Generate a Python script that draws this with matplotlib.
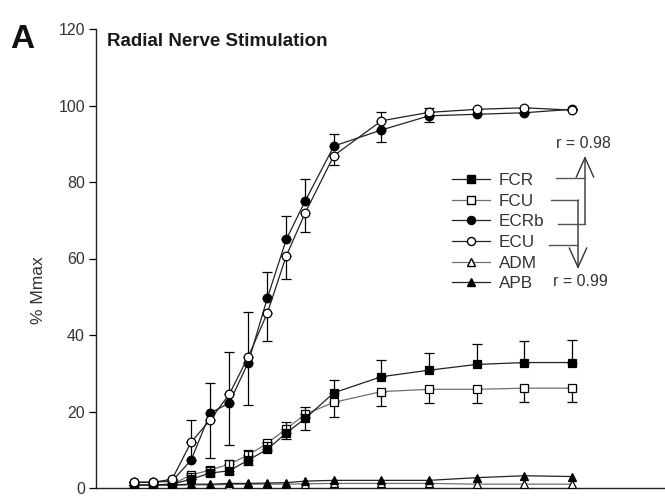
import matplotlib
matplotlib.use("Agg")
import matplotlib.pyplot as plt
from matplotlib.lines import Line2D
from matplotlib.patches import FancyArrowPatch

plt.rcParams['font.family'] = ['Liberation Sans', 'DejaVu Sans']

# stimulus steps (arbitrary units along x)
x = [2, 3, 4, 5, 6, 7, 8, 9, 10, 11, 12.5, 15, 17.5, 20, 22.5, 25]

fcr = [0.8, 0.8, 1.0, 2.3, 3.9, 4.5, 7.3, 10.1, 14.4, 18.2, 24.9, 29.1, 30.8, 32.3, 32.8, 32.8]
fcr_err = [0, 0, 0, 1.5, 1.5, 2.8, 2.6, 2.0, 2.8, 3.1, 3.3, 4.4, 4.6, 5.3, 5.7, 5.9]
fcu = [0.8, 0.8, 1.0, 3.4, 4.7, 6.2, 8.6, 11.7, 15.5, 19.3, 22.4, 25.2, 25.8, 25.8, 26.1, 26.1]
fcu_err = [0, 0, 0, 1.0, 1.5, 2.5, 2.6, 2.0, 2.8, 4.1, 3.9, 3.7, 3.5, 3.5, 3.5, 3.5]
ecrb = [1.5, 1.5, 1.8, 7.3, 19.6, 22.2, 32.8, 49.6, 65.0, 75.1, 89.4, 93.6, 97.3, 97.7, 98.1, 99.0]
ecrb_err = [0, 0, 0, 10.5, 7.8, 13.4, 13.3, 7.0, 6.1, 5.6, 3.1, 4.8, 2.0, 0, 0, 0]
ecu = [1.5, 1.5, 2.3, 12.0, 17.8, 24.5, 34.3, 45.7, 60.7, 72.0, 86.9, 96.0, 98.2, 99.0, 99.4, 98.8]
ecu_err = [0, 0, 0, 0, 10.0, 13.3, 12.6, 7.3, 6.1, 5.0, 2.5, 5.6, 2.6, 0, 0, 0]
adm = [0.7, 0.7, 0.7, 0.8, 0.8, 0.9, 1.0, 1.0, 1.0, 1.1, 1.2, 1.2, 1.2, 1.0, 1.0, 1.0]
apb = [0.8, 0.8, 0.8, 1.0, 1.0, 1.2, 1.2, 1.3, 1.4, 1.8, 2.0, 2.0, 2.0, 2.7, 3.2, 3.0]

y_ticks = [0, 20, 40, 60, 80, 100, 120]

W, H = 665, 499
fig = plt.figure(figsize=(W / 100, H / 100), dpi=100)

def fx(px):
    return px / W

def fy(py):
    return 1 - py / H

ax = fig.add_axes([fx(96), fy(488), fx(665) - fx(96), (488 - 29) / H])

ms = 6.2
lw = 0.9
common = dict(markersize=ms, linewidth=lw, markeredgewidth=0.9, markeredgecolor='black',
              capsize=3.5, elinewidth=0.9, ecolor='black', capthick=0.9)

# error bars: filled markers upward, open markers downward
ax.errorbar(x, adm, color='#707070', marker='^', markerfacecolor='white', label='ADM', zorder=3, **common)
ax.errorbar(x, apb, color='#222222', marker='^', markerfacecolor='black', label='APB', zorder=3.1, **common)
ax.errorbar(x, fcu, yerr=[fcu_err, [0] * len(x)], color='#707070', marker='s', markerfacecolor='white',
            label='FCU', zorder=4, **common)
ax.errorbar(x, fcr, yerr=[[0] * len(x), fcr_err], color='#222222', marker='s', markerfacecolor='black',
            label='FCR', zorder=4.1, **common)
ax.errorbar(x, ecrb, yerr=[[0] * len(x), ecrb_err], color='#222222', marker='o', markerfacecolor='black',
            label='ECRb', zorder=5, **common)
ax.errorbar(x, ecu, yerr=[ecu_err, [0] * len(x)], color='#222222', marker='o', markerfacecolor='white',
            label='ECU', zorder=5.1, **common)

ax.set_xlim(0, 29.9)
ax.set_ylim(0, 120)
ax.set_yticks(y_ticks)
ax.set_yticklabels([str(t) for t in y_ticks])
ax.set_xticks([])
ax.tick_params(axis='y', direction='out', length=5, width=0.9, pad=3, labelsize=11.5, labelcolor='#333333')
for s in ['top', 'right']:
    ax.spines[s].set_visible(False)
for s in ['left', 'bottom']:
    ax.spines[s].set_linewidth(1.0)
    ax.spines[s].set_color('#222222')
ax.set_ylabel('% Mmax', fontsize=12.5, color='#333333')
ax.yaxis.set_label_coords(-0.088, 0.431)

# legend
def h(color, marker, face):
    return Line2D([], [], color=color, marker=marker, markerfacecolor=face, markeredgecolor='black',
                  markersize=5.8, lw=lw)

handles = [h('#222222', 's', 'black'), h('#707070', 's', 'white'), h('#222222', 'o', 'black'),
           h('#222222', 'o', 'white'), h('#707070', '^', 'white'), h('#222222', '^', 'black')]
labels = ['FCR', 'FCU', 'ECRb', 'ECU', 'ADM', 'APB']
leg = fig.legend(handles, labels, loc='upper left', bbox_to_anchor=(fx(452), fy(173)),
                 frameon=False, fontsize=12.3, handlelength=2.2, handletextpad=0.55,
                 labelspacing=0.33, borderpad=0, borderaxespad=0)
for t in leg.get_texts():
    t.set_color('#333333')

# correlation brackets
kw = dict(color='#555555', lw=1.0, transform=fig.transFigure)
fig.add_artist(Line2D([fx(556), fx(585)], [fy(178), fy(178)], **kw))
fig.add_artist(Line2D([fx(558), fx(585)], [fy(224), fy(224)], **kw))
fig.add_artist(Line2D([fx(551), fx(578)], [fy(200), fy(200)], **kw))
fig.add_artist(Line2D([fx(549), fx(578)], [fy(245), fy(245)], **kw))
ap = dict(arrowstyle='->,head_length=1.0,head_width=0.45', color='#333333', lw=1.0)
fig.add_artist(FancyArrowPatch((fx(585), fy(224)), (fx(585), fy(156)),
               transform=fig.transFigure, mutation_scale=14, shrinkA=0, shrinkB=0, **ap))
fig.add_artist(FancyArrowPatch((fx(578), fy(200)), (fx(578), fy(269)),
               transform=fig.transFigure, mutation_scale=14, shrinkA=0, shrinkB=0, **ap))
fig.text(fx(583), fy(143), 'r = 0.98', fontsize=11.5, color='#333333', ha='center', va='center')
fig.text(fx(580), fy(281), 'r = 0.99', fontsize=11.5, color='#333333', ha='center', va='center')

# titles
fig.text(fx(107), fy(42), 'Radial Nerve Stimulation', fontsize=13.5, fontweight='bold',
         color='#1a1a1a', ha='left', va='center')
fig.text(fx(10), fy(40), 'A', fontsize=24, fontweight='bold', color='#111111', ha='left', va='center')

fig.savefig('out.png', dpi=100)
